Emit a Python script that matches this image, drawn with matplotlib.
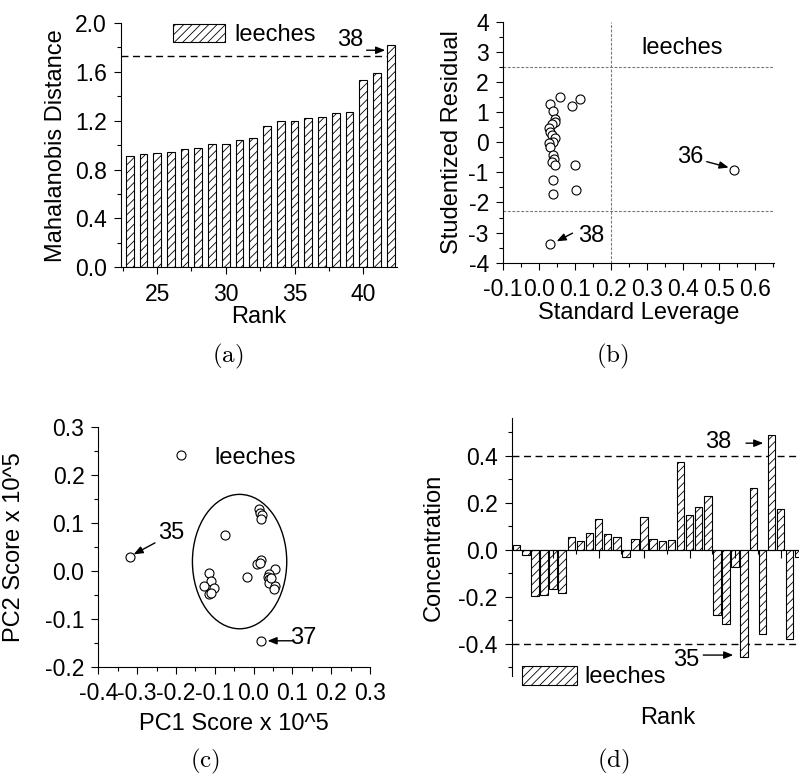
import matplotlib
matplotlib.use('Agg')
import matplotlib.pyplot as plt
from matplotlib.patches import Patch, Ellipse
from matplotlib.lines import Line2D
from matplotlib.ticker import MultipleLocator, FormatStrFormatter

plt.rcParams['font.family'] = ['Liberation Sans', 'DejaVu Sans']
plt.rcParams['axes.unicode_minus'] = False
plt.rcParams['mathtext.fontset'] = 'cm'
plt.rcParams['hatch.linewidth'] = 0.6
plt.rcParams['axes.linewidth'] = 0.8

# (a) Mahalanobis distance by rank
rank_a = list(range(23, 43))
maha = [0.910, 0.929, 0.937, 0.948, 0.965, 0.978, 1.008, 1.008, 1.041, 1.060,
        1.155, 1.199, 1.199, 1.221, 1.232, 1.267, 1.272, 1.537, 1.591, 1.823]
maha_cut = 1.728

# (b) leverage vs studentized residual
lev = [0.032, 0.060, 0.114, 0.092, 0.039, 0.045, 0.044, 0.037, 0.029, 0.031,
       0.036, 0.046, 0.039, 0.029, 0.032, 0.041, 0.042, 0.036, 0.044, 0.101,
       0.040, 0.103, 0.039, 0.032, 0.542]
stud = [1.28, 1.50, 1.42, 1.20, 1.02, 0.76, 0.68, 0.59, 0.46, 0.35,
        0.24, 0.14, 0.02, -0.04, -0.17, -0.42, -0.57, -0.67, -0.76, -0.75,
        -1.27, -1.60, -1.73, -3.37, -0.93]
lev_cut = 0.2
res_cut = [2.5, -2.28]

# (c) PCA scores
pc1 = [-0.318, 0.020, -0.074, -0.016, 0.013, 0.016, 0.021, 0.018, 0.018, 0.008,
       0.017, -0.116, -0.109, -0.128, -0.103, -0.116, -0.109, 0.056, 0.041, 0.037,
       0.039, 0.041, 0.054, 0.052, 0.044]
pc2 = [0.028, -0.147, 0.074, -0.014, 0.128, 0.121, 0.116, 0.107, 0.022, 0.015,
       0.017, -0.005, -0.022, -0.031, -0.035, -0.049, -0.047, 0.003, -0.007, -0.013,
       -0.018, -0.025, -0.031, -0.038, -0.015]
ell_center = (-0.036, 0.019)
ell_size = (0.243, 0.280)

# (d) concentration residual by rank
conc = [0.021, -0.024, -0.197, -0.191, -0.165, -0.182, 0.052, 0.035, 0.071, 0.132,
        0.068, 0.054, -0.031, 0.047, 0.139, 0.044, 0.035, 0.043, 0.374, 0.149,
        0.180, 0.227, -0.279, -0.318, -0.074, -0.458, 0.264, -0.359, 0.487, 0.172,
        -0.379, -0.031]
rank_d = list(range(1, len(conc) + 1))
conc_cut = [0.4, -0.4]

FS = 17
TFS = 16.5
ARROW = dict(arrowstyle='-|>,head_length=0.55,head_width=0.22', color='k',
             lw=1, shrinkA=0, shrinkB=0)

W, H = 799, 776
fig = plt.figure(figsize=(W / 100, H / 100), dpi=100)


def add_ax(l, t, r, b):
    return fig.add_axes([l / W, 1 - b / H, (r - l) / W, (b - t) / H])


def style(ax):
    ax.spines['top'].set_visible(False)
    ax.spines['right'].set_visible(False)
    ax.tick_params(which='both', direction='out', width=0.8, labelsize=TFS)
    ax.tick_params(which='major', length=5)
    ax.tick_params(which='minor', length=3)
    ax.tick_params(axis='x', which='both', pad=6)
    ax.tick_params(axis='y', which='both', pad=5)


def note(ax, label, txt, tail, head):
    ax.text(txt[0], txt[1], label, fontsize=FS, ha='center', va='center')
    ax.annotate('', xy=head, xytext=tail, arrowprops=ARROW)


# ---- (a)
ax = add_ax(121, 23, 397, 267.3)
style(ax)
ax.bar(rank_a, maha, 0.56, color='white', edgecolor='black', hatch='////', lw=0.8)
ax.axhline(maha_cut, color='k', ls=(0, (5, 3.3)), lw=1, zorder=0.5)
ax.set_xlim(22.37, 42.46)
ax.set_ylim(0, 2.0)
ax.xaxis.set_major_locator(MultipleLocator(5))
ax.xaxis.set_minor_locator(MultipleLocator(2.5))
ax.yaxis.set_major_locator(MultipleLocator(0.4))
ax.yaxis.set_minor_locator(MultipleLocator(0.2))
ax.yaxis.set_major_formatter(FormatStrFormatter('%.1f'))
ax.set_xlabel('Rank', fontsize=FS, labelpad=0)
ax.set_ylabel('Mahalanobis Distance', fontsize=FS, labelpad=6)
note(ax, '38', (39.03, 1.86), (40.25, 1.777), (41.6, 1.777))
ax.legend([Patch(facecolor='white', edgecolor='black', hatch='////', lw=0.8)],
          ['leeches'], loc='upper left', bbox_to_anchor=(0.188, 0.995),
          frameon=False, fontsize=FS, handlelength=2.2, handleheight=0.8,
          handletextpad=0.4, borderpad=0, borderaxespad=0)

# ---- (b)
ax = add_ax(502.7, 21.7, 774, 262.7)
style(ax)
ax.plot(lev, stud, ls='none', marker='o', mfc='white', mec='black', ms=6.5, mew=0.8)
for y in res_cut:
    ax.axhline(y, color='#777777', ls=(0, (2.5, 1.5)), lw=0.8, zorder=0.5)
ax.axvline(lev_cut, color='#777777', ls=(0, (2.5, 1.5)), lw=0.8, zorder=0.5)
ax.set_xlim(-0.1, 0.654)
ax.set_ylim(-4, 4)
ax.xaxis.set_major_locator(MultipleLocator(0.1))
ax.xaxis.set_minor_locator(MultipleLocator(0.05))
ax.xaxis.set_major_formatter(FormatStrFormatter('%.1f'))
ax.yaxis.set_major_locator(MultipleLocator(1))
ax.yaxis.set_minor_locator(MultipleLocator(0.5))
ax.set_xlabel('Standard Leverage', fontsize=FS, labelpad=1)
ax.set_ylabel('Studentized Residual', fontsize=FS, labelpad=4)
ax.text(0.40, 3.12, 'leeches', fontsize=FS, ha='center', va='center')
note(ax, '36', (0.42, -0.48), (0.467, -0.646), (0.528, -0.84))
note(ax, '38', (0.147, -3.13), (0.094, -3.02), (0.050, -3.29))

# ---- (c)
ax = add_ax(98.3, 426.7, 370, 666.7)
style(ax)
ax.plot(pc1, pc2, ls='none', marker='o', mfc='white', mec='black', ms=6.5, mew=0.8)
ax.add_patch(Ellipse(ell_center, ell_size[0], ell_size[1], fill=False,
                     edgecolor='black', lw=1))
ax.set_xlim(-0.4, 0.3)
ax.set_ylim(-0.2, 0.3)
ax.xaxis.set_major_locator(MultipleLocator(0.1))
ax.xaxis.set_minor_locator(MultipleLocator(0.05))
ax.yaxis.set_major_locator(MultipleLocator(0.1))
ax.yaxis.set_minor_locator(MultipleLocator(0.05))
ax.xaxis.set_major_formatter(FormatStrFormatter('%.1f'))
ax.yaxis.set_major_formatter(FormatStrFormatter('%.1f'))
ax.set_xlabel('PC1 Score x 10^5', fontsize=FS, labelpad=6)
ax.set_ylabel('PC2 Score x 10^5', fontsize=FS, labelpad=14)
note(ax, '35', (-0.211, 0.078), (-0.254, 0.058), (-0.309, 0.034))
note(ax, '37', (0.128, -0.141), (0.103, -0.146), (0.036, -0.146))
ax.legend([Line2D([], [], ls='none', marker='o', mfc='white', mec='black', ms=6.5, mew=0.8)],
          ['leeches'], loc='center left', bbox_to_anchor=(0.2245, 0.871),
          frameon=False, fontsize=FS, handlelength=1.8, handletextpad=0.55,
          borderpad=0, borderaxespad=0)

# ---- (d)
ax = add_ax(511.7, 418, 817, 676)
style(ax)
ax.spines['bottom'].set_position(('data', 0))
ax.bar(rank_d, conc, 0.82, color='white', edgecolor='black', hatch='////', lw=0.8)
for y in conc_cut:
    ax.axhline(y, color='k', ls=(0, (5, 3.3)), lw=1, zorder=0.5)
ax.set_xlim(0.45, 34.0)
ax.set_ylim(-0.537, 0.56)
ax.xaxis.set_major_locator(MultipleLocator(5))
ax.xaxis.set_minor_locator(MultipleLocator(2.5))
ax.tick_params(axis='x', which='both', labelbottom=False)
ax.tick_params(axis='x', which='major', length=6)
ax.yaxis.set_major_locator(MultipleLocator(0.2))
ax.yaxis.set_minor_locator(MultipleLocator(0.1))
ax.yaxis.set_major_formatter(FormatStrFormatter('%.1f'))
ax.set_ylabel('Concentration', fontsize=FS, labelpad=10)
ax.set_xlabel('Rank', fontsize=FS)
ax.xaxis.set_label_coords(0.512, -0.12)
note(ax, '38', (23.15, 0.46), (26.2, 0.453), (28.1, 0.453))
note(ax, '35', (19.66, -0.469), (21.5, -0.448), (24.8, -0.448))
ax.legend([Patch(facecolor='white', edgecolor='black', hatch='////', lw=0.8)],
          ['leeches'], loc='center left', bbox_to_anchor=(0.033, -0.004),
          frameon=False, fontsize=FS, handlelength=2.35, handleheight=0.85,
          handletextpad=0.3, borderpad=0, borderaxespad=0)

# captions
for x, y, s in [(228, 356, 'a'), (612, 356, 'b'), (205, 761, 'c'), (613, 761, 'd')]:
    fig.text(x / W, 1 - y / H, r'$\mathrm{(%s)}$' % s, ha='center', va='center', fontsize=18)

fig.savefig('out.png', dpi=100)
